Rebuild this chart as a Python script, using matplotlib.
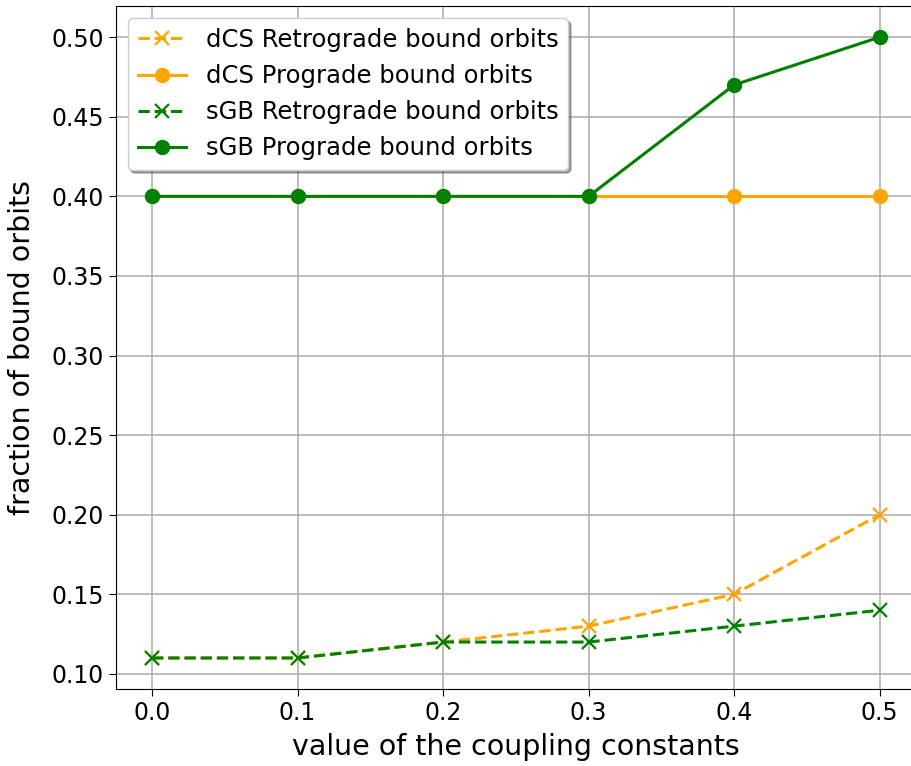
import numpy as np
import matplotlib
matplotlib.use("Agg")
import matplotlib.pyplot as plt

# coupling constant values
couplings = [0.0, 0.1, 0.2, 0.3, 0.4, 0.5]

# fraction of bound orbits
dcs_retro = [0.11, 0.11, 0.12, 0.13, 0.15, 0.20]
dcs_pro = [0.40, 0.40, 0.40, 0.40, 0.40, 0.40]
sgb_retro = [0.11, 0.11, 0.12, 0.12, 0.13, 0.14]
sgb_pro = [0.40, 0.40, 0.40, 0.40, 0.47, 0.50]

fig, ax = plt.subplots(figsize=(9.11, 7.66), dpi=100)

ax.plot(couplings, dcs_retro, 'x--', color='orange', lw=2.2, ms=10, mew=1.6, label='dCS Retrograde bound orbits')
ax.plot(couplings, dcs_pro, 'o-', color='orange', lw=2.2, ms=10, label='dCS Prograde bound orbits')
ax.plot(couplings, sgb_retro, 'x--', color='green', lw=2.2, ms=10, mew=1.6, label='sGB Retrograde bound orbits')
ax.plot(couplings, sgb_pro, 'o-', color='green', lw=2.2, ms=10, label='sGB Prograde bound orbits')

ax.set_xlabel('value of the coupling constants', fontsize=20.5, labelpad=6)
ax.set_ylabel('fraction of bound orbits', fontsize=20.5, labelpad=11)
ax.tick_params(labelsize=17, length=5)
ax.grid(True, color='#b0b0b0', lw=1.2)
ax.legend(fontsize=17.5, shadow=True, loc='upper left')

plt.subplots_adjust(left=0.127, right=1.0055, top=0.992, bottom=0.1005)
plt.savefig('out.png', dpi=100)
